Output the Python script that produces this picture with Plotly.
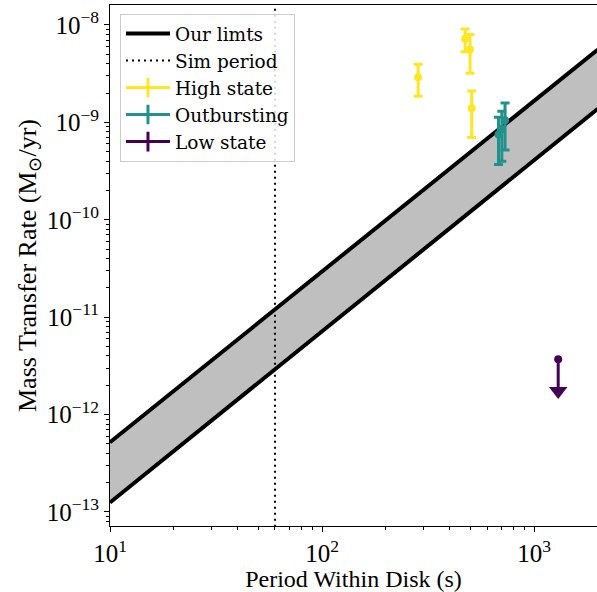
import plotly.graph_objects as go

# Model limits on the mass transfer rate (Msun/yr) at the ends of the period range (s)
limit_period = [10, 2000]
limit_upper = [5.2e-13, 5.6e-9]
limit_lower = [1.25e-13, 1.38e-9]

# Simulated period (s)
sim_period = 60

# Observed systems: period (s), mass transfer rate and 1-sigma error (Msun/yr)
high_period = [284, 473, 499, 508]
high_rate = [2.9e-9, 7.2e-9, 5.6e-9, 1.4e-9]
high_err = [1.05e-9, 1.9e-9, 2.4e-9, 0.7e-9]

out_period = [680, 705, 730]
out_rate = [7.5e-10, 8.5e-10, 1.05e-9]
out_err = [3.8e-10, 4.5e-10, 5.3e-10]

low_period = [1300]
low_rate = [3.7e-12]
low_err = [1.95e-12]  # length of the upper-limit arrow

# Axis ticks (decade exponents)
x_exps = [1, 2, 3]
y_exps = [-13, -12, -11, -10, -9, -8]

YELLOW = "#fde725"
TEAL = "#21918c"
PURPLE = "#440154"
FONT = "Liberation Serif"
LEGEND_FONT = "DejaVu Serif"

fig = go.Figure()

# shaded region between the limits
fig.add_trace(go.Scatter(x=limit_period, y=limit_lower, mode="lines",
                         line=dict(width=0, color="black"), showlegend=False,
                         hoverinfo="skip"))
fig.add_trace(go.Scatter(x=limit_period, y=limit_upper, mode="lines",
                         line=dict(width=0, color="black"), fill="tonexty",
                         fillcolor="#bfbfbf", showlegend=False, hoverinfo="skip"))
# limit lines
fig.add_trace(go.Scatter(x=limit_period, y=limit_upper, mode="lines",
                         line=dict(width=4, color="black"), name="Our limts",
                         legendgroup="lim"))
fig.add_trace(go.Scatter(x=limit_period, y=limit_lower, mode="lines",
                         line=dict(width=4, color="black"), showlegend=False,
                         legendgroup="lim"))

# simulated period
fig.add_trace(go.Scatter(x=[sim_period, sim_period], y=[1e-15, 1e-6], mode="lines",
                         line=dict(width=2, color="black", dash="2px,4px"),
                         name="Sim period"))


def errbar(x, y, err, color, name):
    fig.add_trace(go.Scatter(
        x=x, y=y, mode="markers", showlegend=False, legendgroup=name,
        marker=dict(size=8, color=color),
        error_y=dict(type="data", array=err, color=color, thickness=3, width=4.5),
    ))


errbar(high_period, high_rate, high_err, YELLOW, "High state")
errbar(out_period, out_rate, out_err, TEAL, "Outbursting")

# low state upper limit: shaft plus arrowhead
fig.add_trace(go.Scatter(
    x=low_period, y=low_rate, mode="markers", showlegend=False, legendgroup="Low state",
    marker=dict(size=8, color=PURPLE),
    error_y=dict(type="data", symmetric=False, array=[0] * len(low_err),
                 arrayminus=low_err, color=PURPLE, thickness=3, width=0),
))
fig.add_trace(go.Scatter(
    x=low_period, y=[r - e for r, e in zip(low_rate, low_err)], mode="markers",
    showlegend=False, legendgroup="Low state",
    marker=dict(size=16, color=PURPLE, symbol="triangle-down"),
))

# legend entries for the error-bar series
for color, name in [(YELLOW, "High state"), (TEAL, "Outbursting"), (PURPLE, "Low state")]:
    fig.add_trace(go.Scatter(
        x=[None], y=[None], mode="lines+markers", name=name, legendgroup=name,
        line=dict(width=3, color=color),
        marker=dict(symbol="line-ns", size=14, color=color, line=dict(width=3, color=color)),
    ))

x_minor = [d * 10 ** e for e in [1, 2, 3] for d in range(2, 10)]
y_minor = [d * 10.0 ** e for e in range(-14, -7) for d in range(2, 10)]

fig.update_layout(
    width=597, height=592,
    margin=dict(l=110, r=0, t=5, b=66),
    paper_bgcolor="white", plot_bgcolor="white",
    font=dict(family=FONT, size=22, color="black"),
    showlegend=True,
    legend=dict(x=0.0205, y=0.983, xanchor="left", yanchor="top",
                bgcolor="rgba(255,255,255,0.85)", bordercolor="#cccccc", borderwidth=1,
                font=dict(family=LEGEND_FONT, size=18.5), itemwidth=44,
                traceorder="normal", tracegroupgap=0),
    xaxis=dict(
        type="log", range=[1, 3.297],
        tickvals=[10 ** e for e in x_exps],
        ticktext=[f"10<sup>{e}</sup>" for e in x_exps],
        ticks="outside", ticklen=5, tickwidth=1, tickcolor="black",
        showline=True, linecolor="black", linewidth=1, mirror=True,
        showgrid=False, zeroline=False,
        minor=dict(tickvals=x_minor, ticks="outside", ticklen=3, tickwidth=1,
                   tickcolor="black", showgrid=False),
        title=dict(text="Period Within Disk (s)", font=dict(size=24), standoff=4),
        tickfont=dict(size=25),
    ),
    yaxis=dict(
        type="log", range=[-13.144, -7.795],
        tickvals=[10.0 ** e for e in y_exps],
        ticktext=[f"10<sup>\u2212{abs(e)}</sup>" for e in y_exps],
        ticks="outside", ticklen=5, tickwidth=1, tickcolor="black",
        showline=True, linecolor="black", linewidth=1, mirror=False,
        showgrid=False, zeroline=False,
        minor=dict(tickvals=y_minor, ticks="outside", ticklen=3, tickwidth=1,
                   tickcolor="black", showgrid=False),
        title=dict(text="Mass Transfer Rate (M<sub>\u2299</sub>/yr)", font=dict(size=26),
                   standoff=2),
        tickfont=dict(size=25),
    ),
)

fig.write_html("out.html")
